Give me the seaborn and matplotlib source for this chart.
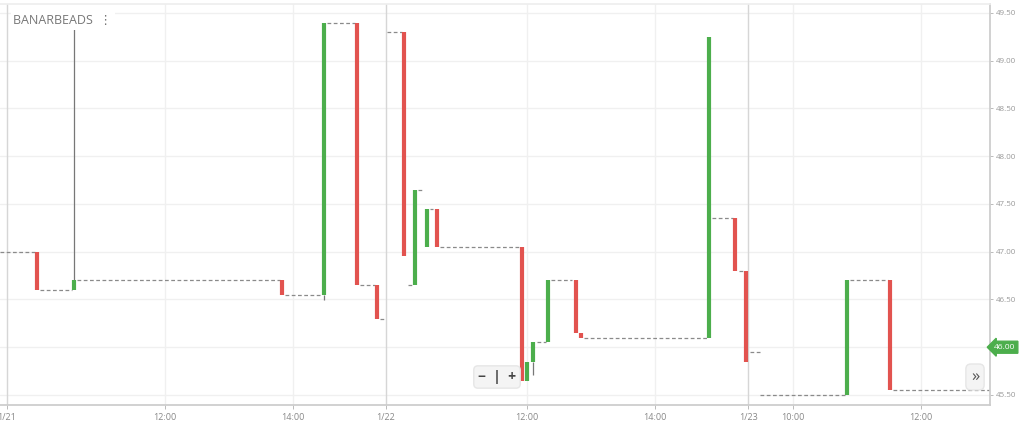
import matplotlib
matplotlib.use('Agg')
import matplotlib.pyplot as plt
import seaborn as sns

# x = trading hours from the 1/21 session start
tick_pos = [0, 2.47, 4.47, 5.92, 8.125, 10.125, 11.58, 12.28, 14.28]
tick_labels = ['1/21', '12:00', '14:00', '1/22', '12:00', '14:00', '1/23', '10:00', '12:00']
day_ticks = ['1/21', '1/22', '1/23']

# bars (open -> close)
bar_time = [0.47, 1.05, 4.30, 4.95, 5.47, 5.78, 6.20, 6.38, 6.56, 6.72, 8.05, 8.13, 8.22,
            8.45, 8.89, 8.97, 10.97, 11.375, 11.55, 13.125, 13.80]
bar_open = [47.00, 46.60, 46.70, 46.55, 49.40, 46.65, 49.30, 46.65, 47.05, 47.45, 47.05, 45.65, 45.85,
            46.05, 46.70, 46.15, 46.10, 47.35, 46.80, 45.50, 46.70]
bar_close = [46.60, 46.70, 46.55, 49.40, 46.65, 46.30, 46.95, 47.65, 47.45, 47.05, 45.65, 45.85, 46.05,
             46.70, 46.15, 46.10, 49.25, 46.80, 45.85, 46.70, 45.55]

# wicks
wick_time = [1.05, 4.95, 8.22]
wick_low = [46.70, 46.49, 45.71]
wick_high = [49.34, 46.55, 45.85]

# flat periods (dashed)
flat_start = [-0.11, 0.52, 1.09, 4.34, 5.00, 5.52, 5.83, 5.94, 6.27, 6.42, 6.61, 6.77, 8.28, 8.50,
              9.02, 11.02, 11.44, 11.61, 11.77, 13.17, 13.84]
flat_end = [0.44, 1.02, 4.27, 4.92, 5.44, 5.75, 5.91, 6.17, 6.34, 6.50, 6.66, 8.00, 8.42, 8.83,
            10.94, 11.34, 11.52, 11.77, 13.09, 13.77, 15.36]
flat_price = [47.00, 46.60, 46.70, 46.55, 49.40, 46.65, 46.30, 49.30, 46.65, 47.65, 47.45, 47.05, 46.05, 46.70,
              46.10, 47.35, 46.80, 45.95, 45.50, 46.70, 45.55]

y_ticks = [45.5, 46.0, 46.5, 47.0, 47.5, 48.0, 48.5, 49.0, 49.5]
last_price = 46.00
ticker = 'BANARBEADS'

green = '#4cae4c'
red = '#e2534f'

sns.set_theme(style='white')
plt.rcParams['font.family'] = ['Open Sans', 'DejaVu Sans']

fig = plt.figure(figsize=(10.24, 4.24), dpi=100)
ax = fig.add_axes([0, 1 - 405 / 424, 990 / 1024, 401 / 424])

ax.set_xlim(-0.109, 15.36)
ax.set_ylim(45.395, 49.594)

# grid
for v in y_ticks:
    ax.axhline(v, color='#f0f0f0', lw=1, zorder=0)
for p, l in zip(tick_pos, tick_labels):
    ax.axvline(p, color='#d6d6d6' if l in day_ticks else '#f0f0f0', lw=1, zorder=0)

ax.hlines(flat_price, flat_start, flat_end, colors='#8a8a8a', lw=0.9,
          linestyles=(0, (3, 2)), zorder=2)
ax.vlines(wick_time, wick_low, wick_high, colors='#777777', lw=0.9, zorder=2)
cols = [green if c >= o else red for o, c in zip(bar_open, bar_close)]
ax.vlines(bar_time, bar_open, bar_close, colors=cols, lw=3.0, zorder=3)

ax.set_xticks(tick_pos)
ax.set_xticklabels(tick_labels)
ax.set_yticks(y_ticks)
# the last-price tag sits on top of its own tick label
ax.set_yticklabels(['' if v == last_price else '%.2f' % v for v in y_ticks])
ax.yaxis.tick_right()
ax.tick_params(axis='y', length=2.5, width=0.7, color='#bbbbbb', labelsize=5.8,
               labelcolor='#999999', pad=2)
ax.tick_params(axis='x', length=3, width=0.7, color='#bbbbbb', labelsize=6.5,
               labelcolor='#888888', pad=3)
ax.tick_params(axis='both', which='both', direction='out')
ax.tick_params(axis='y', left=False, right=True)
ax.tick_params(axis='x', bottom=True)

ax.spines['left'].set_visible(False)
ax.spines['top'].set_color('#eeeeee')
ax.spines['right'].set_color('#cccccc')
ax.spines['bottom'].set_color('#cccccc')

# title
ax.text(0.0135, 0.975, ticker + '  \u22ee', transform=ax.transAxes,
        fontsize=9, color='#777777', va='top', ha='left',
        bbox=dict(facecolor='white', edgecolor='none', pad=2))

# last price tag
ax.text(1.004, last_price, '%.2f' % last_price, transform=ax.get_yaxis_transform(),
        fontsize=6, color='white', va='center', ha='left', zorder=5, clip_on=False,
        bbox=dict(boxstyle='larrow,pad=0.3', facecolor=green, edgecolor=green))

# ui buttons
fig.text(497 / 1024, 1 - 377 / 424, '\u2212  |  +', fontsize=10, fontweight='bold', color='#444444',
         ha='center', va='center',
         bbox=dict(boxstyle='round,pad=0.3', facecolor='#f4f4f4', edgecolor='#e6e6e6'))
fig.text(975 / 1024, 1 - 377 / 424, '\u00bb', fontsize=12, color='#555555', ha='center', va='center',
         bbox=dict(boxstyle='round,pad=0.3', facecolor='#f4f4f4', edgecolor='#e6e6e6'))

fig.savefig('out.png', dpi=100)
